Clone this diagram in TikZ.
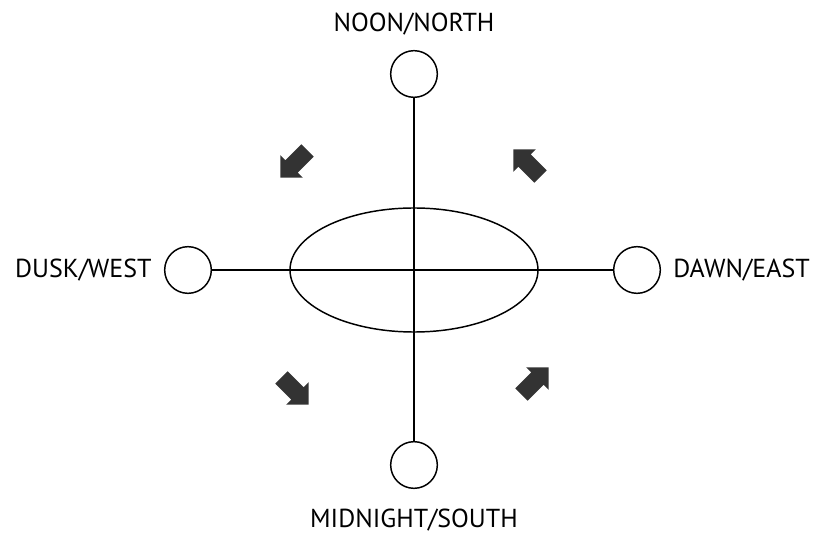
\documentclass[tikz,border=0pt]{standalone}
\usepackage{fontspec}
\setmainfont{PT Sans}
\usetikzlibrary{shapes.arrows, shapes.geometric, positioning}

\tikzset{
    station/.style={draw, circle, line width=1.1pt, minimum size=35pt, inner sep=0pt},
    label/.style={font=\fontsize{19.5}{23}\selectfont, inner sep=0pt},
    turn/.style={single arrow, fill=black!80, draw=none, inner xsep=0pt, inner ysep=6.3pt,
        minimum height=29pt,
        single arrow head extend=5.5pt, single arrow head indent=0pt}
}

\begin{document}
\begin{tikzpicture}[x=0.75pt, y=0.75pt]
        % Rahmen
        \useasboundingbox (-414,-265) rectangle (410,270);

        % --- Stationen ---
        \node[station] (north) at (0,196) {};
        \node[station] (south) at (0,-195) {};
        \node[station] (west) at (-226,0) {};
        \node[station] (east) at (223,0) {};

        % Achsen
        \draw[line width=1pt] (north) -- (south);
        \draw[line width=1pt] (west) -- (east);

        % Erde
        \node[draw, ellipse, line width=1.1pt, minimum width=186pt, minimum height=93pt] (earth) at (0,0) {};

        % Beschriftung
        \node[label, above=11pt of north] (noon) {NOON/NORTH};
        \node[label, below=15pt of south] (midnight) {MIDNIGHT/SOUTH};
        \node[label, left=9pt of west] (dusk) {DUSK/WEST};
        \node[label, right=9pt of east] (dawn) {DAWN/EAST};

        % Drehrichtung
        \foreach \name/\x/\y/\a in {nw/-117/109/225, ne/116/104/135, sw/-122/-118/-45, se/118/-114/45}
            \node[turn, rotate=\a] (arr\name) at (\x,\y) {};

    \end{tikzpicture}
\end{document}
